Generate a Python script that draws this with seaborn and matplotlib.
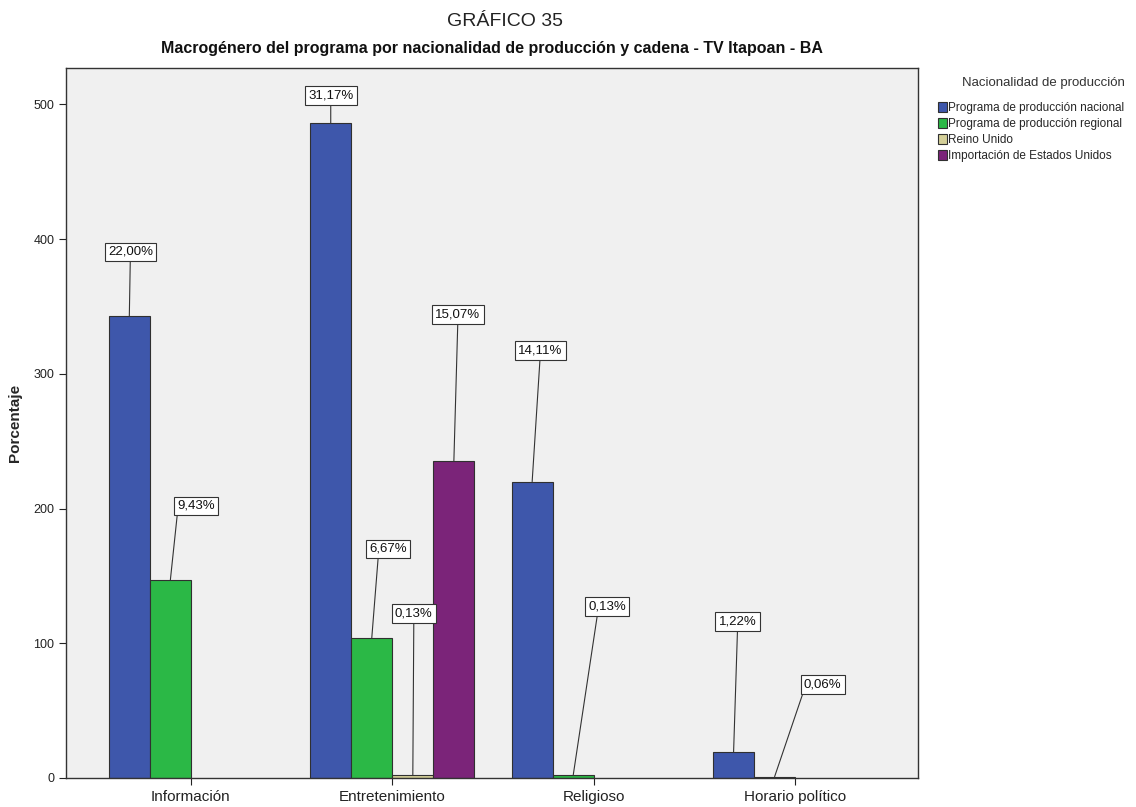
import matplotlib
matplotlib.use("Agg")
import matplotlib.pyplot as plt
import seaborn as sns
import pandas as pd

# Data: program counts per macro-genre and production origin
generos = ["Información", "Entretenimiento", "Religioso", "Horario político"]
origenes = ["Programa de producción nacional", "Programa de producción regional",
            "Reino Unido", "Importación de Estados Unidos"]
nacional = [343, 486, 220, 19]
regional = [147, 104, 2, 1]
reino_unido = [0, 2, 0, 0]
estados_unidos = [0, 235, 0, 0]
etiquetas = {
    ("Información", "Programa de producción nacional"): "22,00%",
    ("Información", "Programa de producción regional"): "9,43%",
    ("Entretenimiento", "Programa de producción nacional"): "31,17%",
    ("Entretenimiento", "Programa de producción regional"): "6,67%",
    ("Entretenimiento", "Reino Unido"): "0,13%",
    ("Entretenimiento", "Importación de Estados Unidos"): "15,07%",
    ("Religioso", "Programa de producción nacional"): "14,11%",
    ("Religioso", "Programa de producción regional"): "0,13%",
    ("Horario político", "Programa de producción nacional"): "1,22%",
    ("Horario político", "Programa de producción regional"): "0,06%",
}

# Callout placement (pixels): anchor shift on bar top, box offset from bar
# top-centre, and where the leader meets the box bottom (fraction of width)
callouts = {
    ("Información", "Programa de producción nacional"): (6, 7, 64, 0.5),
    ("Información", "Programa de producción regional"): (4, 30, 74, 0.0),
    ("Entretenimiento", "Programa de producción nacional"): (0, 0, 28, 0.5),
    ("Entretenimiento", "Programa de producción regional"): (0, 16, 89, 0.25),
    ("Entretenimiento", "Reino Unido"): (0, 1, 162, 0.5),
    ("Entretenimiento", "Importación de Estados Unidos"): (4, 8, 147, 0.5),
    ("Religioso", "Programa de producción nacional"): (6, 14, 131, 0.5),
    ("Religioso", "Programa de producción regional"): (2, 36, 169, 0.25),
    ("Horario político", "Programa de producción nacional"): (0, 4, 131, 0.5),
    ("Horario político", "Programa de producción regional"): (0, 48, 92, 0.0),
}

colores = ["#3E57AB", "#2BB846", "#D4CF98", "#7B2479"]

rows = []
for i, g in enumerate(generos):
    for o, serie in zip(origenes, [nacional, regional, reino_unido, estados_unidos]):
        if serie[i] > 0:
            rows.append({"genero": g, "origen": o, "n": serie[i]})
df = pd.DataFrame(rows)

sns.set_theme(style="white")
plt.rcParams["font.family"] = ["Liberation Sans", "DejaVu Sans"]

fig = plt.figure(figsize=(11.36, 8.07), dpi=100)
ax = fig.add_axes([66 / 1136, 1 - 778 / 807, 852 / 1136, 710 / 807])
ax.set_facecolor("#F0F0F0")

sns.barplot(data=df, x="genero", y="n", hue="origen", order=generos,
            hue_order=origenes, palette=colores, saturation=1, width=0.815,
            dodge=True, edgecolor="#303030", linewidth=0.8, ax=ax, legend=True)

ax.set_xlim(-0.62, 3.61)
ax.set_ylim(0, 527)
ax.set_yticks([0, 100, 200, 300, 400, 500])
ax.tick_params(axis="both", which="both", direction="out", length=5, width=0.8,
               colors="#222222", labelsize=9, bottom=True, left=True)
for lbl in ax.get_xticklabels():
    lbl.set_fontsize(11)
for lbl in ax.get_yticklabels():
    lbl.set_fontsize(9)
ax.set_xlabel("")
ax.set_ylabel("Porcentaje", fontsize=11, fontweight="bold", labelpad=8)
for sp in ax.spines.values():
    sp.set_visible(True)
    sp.set_color("#333333")
    sp.set_linewidth(1.0)

# Percentage callouts
for o, cont in zip(origenes, ax.containers):
    sub = df[df["origen"] == o].reset_index(drop=True)
    for bar, (_, r) in zip(cont.patches, sub.iterrows()):
        key = (r["genero"], o)
        dxa, dxb, dyb, rx = callouts[key]
        cx = bar.get_x() + bar.get_width() / 2
        top = bar.get_height()
        ax.annotate(etiquetas[key], xy=(cx, top), xycoords="data",
                    xytext=(dxb - dxa, dyb), textcoords="offset pixels",
                    ha="center", va="center", fontsize=9.5, color="#111111",
                    bbox=dict(boxstyle="square,pad=0.25", fc="white",
                              ec="#333333", lw=0.8),
                    arrowprops=dict(arrowstyle="-", color="#333333", lw=0.8,
                                    shrinkA=0, shrinkB=0, relpos=(rx, 0.0)),
                    annotation_clip=False)

leg = ax.legend(title="Nacionalidad de producción", loc="upper left",
                bbox_to_anchor=(1.012, 1.0), frameon=False, fontsize=8.5,
                title_fontsize=9.5, handlelength=0.75, handleheight=0.95,
                handletextpad=0.15, labelspacing=0.32, borderaxespad=0.6,
                borderpad=0.2)
leg._legend_box.align = "right"
leg._legend_box.sep = 9
leg.get_title().set_color("#333333")

fig.text(505 / 1136, 1 - 22 / 807, "GRÁFICO 35", ha="center", va="center",
         fontsize=14, color="#222222")
fig.text(492 / 1136, 1 - 48 / 807,
         "Macrogénero del programa por nacionalidad de producción y cadena - TV Itapoan - BA",
         ha="center", va="center", fontsize=11.5, fontweight="bold", color="#111111")

fig.savefig("out.png", dpi=100, facecolor="white")
